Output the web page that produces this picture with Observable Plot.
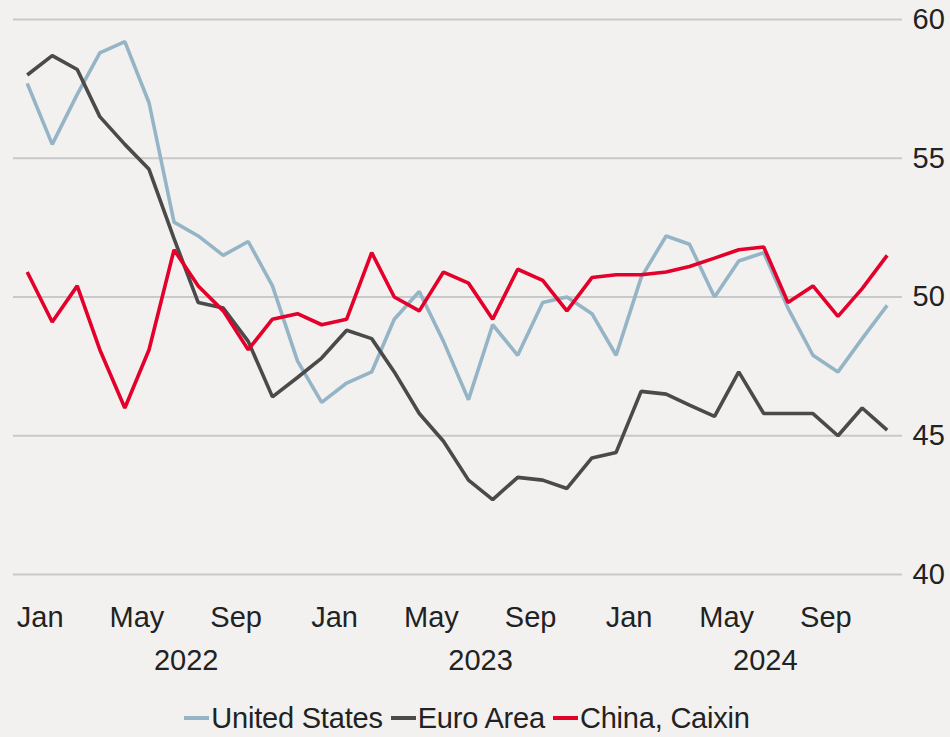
<!DOCTYPE html>
<html>
<head>
<meta charset="utf-8">
<script src="https://cdn.jsdelivr.net/npm/d3@7"></script>
<script src="https://cdn.jsdelivr.net/npm/@observablehq/plot@0.6"></script>
<style>
  html, body { margin: 0; padding: 0; background: #f2f1ef; }
  body { width: 950px; height: 737px; overflow: hidden; font-family: "Liberation Sans", Arial, sans-serif; color: #222; }
  #legend { display: flex; justify-content: center; align-items: center; height: 40px; margin-top: 8px; font-size: 29px; padding-right: 16px; letter-spacing: -0.2px; }
  .item { display: flex; align-items: center; margin: 0 4px; }
  .sw { width: 25px; height: 4px; margin-right: 2px; }
</style>
</head>
<body>
<div id="chart"></div>
<div id="legend"></div>
<script>
// Months (mid-month observations), Dec 2021 .. Nov 2024
const months = [
  "2021-12",
  "2022-01","2022-02","2022-03","2022-04","2022-05","2022-06","2022-07","2022-08","2022-09","2022-10","2022-11","2022-12",
  "2023-01","2023-02","2023-03","2023-04","2023-05","2023-06","2023-07","2023-08","2023-09","2023-10","2023-11","2023-12",
  "2024-01","2024-02","2024-03","2024-04","2024-05","2024-06","2024-07","2024-08","2024-09","2024-10","2024-11"
];
const seriesNames = ["United States", "Euro Area", "China, Caixin"];
const seriesColors = ["#95b5c7", "#4a4a4a", "#e3002b"];

const unitedStates = [57.7, 55.5, 57.3, 58.8, 59.2, 57.0, 52.7, 52.2, 51.5, 52.0, 50.4, 47.7, 46.2,
  46.9, 47.3, 49.2, 50.2, 48.4, 46.3, 49.0, 47.9, 49.8, 50.0, 49.4, 47.9,
  50.7, 52.2, 51.9, 50.0, 51.3, 51.6, 49.6, 47.9, 47.3, 48.5, 49.7];
const euroArea = [58.0, 58.7, 58.2, 56.5, 55.5, 54.6, 52.1, 49.8, 49.6, 48.4, 46.4, 47.1, 47.8,
  48.8, 48.5, 47.3, 45.8, 44.8, 43.4, 42.7, 43.5, 43.4, 43.1, 44.2, 44.4,
  46.6, 46.5, 46.1, 45.7, 47.3, 45.8, 45.8, 45.8, 45.0, 46.0, 45.2];
const chinaCaixin = [50.9, 49.1, 50.4, 48.1, 46.0, 48.1, 51.7, 50.4, 49.5, 48.1, 49.2, 49.4, 49.0,
  49.2, 51.6, 50.0, 49.5, 50.9, 50.5, 49.2, 51.0, 50.6, 49.5, 50.7, 50.8,
  50.8, 50.9, 51.1, 51.4, 51.7, 51.8, 49.8, 50.4, 49.3, 50.3, 51.5];

const yTicks = [40, 45, 50, 55, 60];
const monthTicks = ["2022-01","2022-05","2022-09","2023-01","2023-05","2023-09","2024-01","2024-05","2024-09"];
const yearLabels = [["2022", "2022-07-01"], ["2023", "2023-07-01"], ["2024", "2024-06-18"]];

const mid = m => new Date(m + "-16T00:00:00Z");
const start = m => new Date(m + "-01T00:00:00Z");

const allSeries = [unitedStates, euroArea, chinaCaixin];
const data = [];
allSeries.forEach((vals, si) => {
  vals.forEach((v, i) => data.push({series: seriesNames[si], date: mid(months[i]), value: v}));
});

const yearMap = new Map(yearLabels.map(([y, d]) => [+new Date(d + "T00:00:00Z"), y]));

const chart = Plot.plot({
  width: 950,
  height: 690,
  marginTop: 19,
  marginBottom: 116,
  marginLeft: 13,
  marginRight: 48,
  style: {background: "#f2f1ef", fontFamily: "'Liberation Sans', Arial, sans-serif", fontSize: "29px", color: "#222"},
  x: {type: "utc", domain: [new Date("2021-11-29T00:00:00Z"), new Date("2024-12-05T00:00:00Z")]},
  y: {domain: [40, 60]},
  color: {domain: seriesNames, range: seriesColors},
  marks: [
    Plot.ruleY(yTicks, {stroke: "#c9c9c9", strokeWidth: 2}),
    Plot.axisY({anchor: "right", ticks: yTicks, tickSize: 0, tickPadding: 10, label: null, fill: "#222", fontSize: 29}),
    Plot.axisX({ticks: monthTicks.map(start), tickFormat: d3.utcFormat("%b"), tickSize: 0, tickPadding: 32, label: null, fill: "#222", fontSize: 29}),
    Plot.axisX({ticks: yearLabels.map(([y, d]) => new Date(d + "T00:00:00Z")), tickFormat: d => yearMap.get(+d), tickSize: 0, tickPadding: 75, label: null, fill: "#222", fontSize: 29}),
    Plot.line(data, {x: "date", y: "value", z: "series", stroke: "series", strokeWidth: 3.6, strokeLinejoin: "miter", strokeLinecap: "butt"})
  ]
});
document.getElementById("chart").appendChild(chart);

const legend = document.getElementById("legend");
seriesNames.forEach((name, i) => {
  const item = document.createElement("div");
  item.className = "item";
  const sw = document.createElement("span");
  sw.className = "sw";
  sw.style.background = seriesColors[i];
  const t = document.createElement("span");
  t.textContent = name;
  item.appendChild(sw);
  item.appendChild(t);
  legend.appendChild(item);
});
</script>
</body>
</html>
